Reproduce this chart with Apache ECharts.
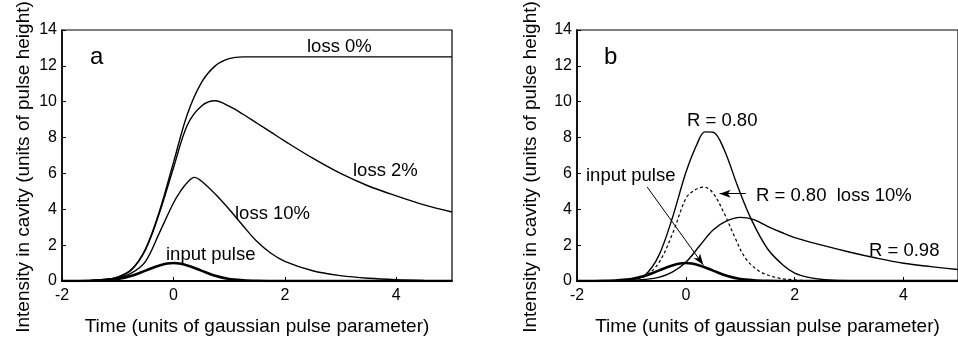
<!DOCTYPE html>
<html><head><meta charset="utf-8">
<script src="https://cdn.jsdelivr.net/npm/echarts@6/dist/echarts.min.js"></script>
<style>html,body{margin:0;padding:0;background:#fff}#c{width:958px;height:341px}</style>
</head><body><div id="c"></div>
<script>
// ---- data ----
const xTicks = [-2, 0, 2, 4];
const yTicks = [0, 2, 4, 6, 8, 10, 12, 14];

const tInput = [-2,-1.75,-1.5,-1.25,-1,-0.75,-0.5,-0.25,0,0.25,0.5,0.75,1,1.25,1.5,1.75,2,3,4,5];
const vInput = [0,0.002,0.01,0.04,0.11,0.29,0.58,0.87,1.0,0.87,0.58,0.29,0.11,0.04,0.01,0.002,0,0,0,0];

const tLoss0 = [-2,-1.75,-1.5,-1.25,-1,-0.75,-0.5,-0.25,0,0.25,0.5,0.75,1,1.25,1.5,2,3,4,5];
const vLoss0 = [0,0.005,0.02,0.08,0.22,0.65,1.8,3.9,6.6,9.3,11.05,12.0,12.4,12.5,12.5,12.5,12.5,12.5,12.5];

const tLoss2 = [-2,-1.75,-1.5,-1.25,-1,-0.75,-0.5,-0.25,0,0.25,0.5,0.75,1,1.25,1.5,1.75,2,2.5,3,3.5,4,4.5,5];
const vLoss2 = [0,0.005,0.02,0.08,0.22,0.63,1.75,3.8,6.3,8.7,9.75,10.05,9.75,9.3,8.8,8.3,7.8,6.85,6.0,5.3,4.75,4.25,3.85];

const tLoss10 = [-2,-1.75,-1.5,-1.25,-1,-0.75,-0.5,-0.25,0,0.125,0.25,0.375,0.5,0.75,1,1.25,1.5,1.75,2,2.5,3,3.5,4,4.5,5];
const vLoss10 = [0,0.005,0.02,0.06,0.18,0.45,1.1,2.7,4.35,5.0,5.5,5.78,5.58,4.85,4.0,3.08,2.2,1.55,1.1,0.57,0.3,0.15,0.07,0.03,0.01];

const tR80 = [-2,-1.5,-1.25,-1,-0.75,-0.5,-0.25,0,0.2,0.35,0.5,0.7,0.95,1.2,1.5,1.8,2,2.25,2.55,3,5];
const vR80 = [0,0.005,0.02,0.08,0.33,1.4,3.5,6.05,7.6,8.32,8.3,7.35,5.3,3.45,1.8,0.85,0.44,0.2,0.07,0.01,0];

const tR80L10 = [-2,-1.5,-1.25,-1,-0.75,-0.5,-0.25,0,0.15,0.33,0.5,0.7,0.9,1.1,1.35,1.65,1.95,2.5,5];
const vR80L10 = [0,0.005,0.02,0.07,0.27,1.0,2.6,4.6,5.05,5.24,4.9,3.8,2.44,1.25,0.55,0.2,0.07,0.01,0];

const tR98 = [-2,-1.5,-1,-0.75,-0.5,-0.25,0,0.25,0.5,0.75,1,1.25,1.5,1.75,2,2.5,3,3.5,4,4.5,5];
const vR98 = [0,0.005,0.04,0.09,0.2,0.5,1.05,1.95,2.85,3.35,3.55,3.42,3.05,2.72,2.42,2.0,1.62,1.28,0.99,0.8,0.64];

// annotation arrows (data coordinates)
const arrowInput = [[-0.71, 5.24], [0.32, 0.9]];
const arrowLoss = [[1.1, 4.87], [0.62, 4.87]];

const xName = 'Time (units of gaussian pulse parameter)';
const yName = 'Intensity in cavity (units of pulse height)';

// ---- chart ----
const zip = (t, v) => t.map((x, i) => [x, v[i]]);
const FONT = 'Liberation Sans, Arial, Helvetica, sans-serif';
const chart = echarts.init(document.getElementById('c'), null, {renderer: 'canvas'});

function xAxisDef(gi) {
  return {
    type: 'value', gridIndex: gi, min: xTicks[0], max: 5, interval: 2,
    name: xName, nameLocation: 'middle', nameGap: 36,
    nameTextStyle: {color: '#000', fontSize: 19, fontFamily: FONT},
    axisLine: {show: true, onZero: false, lineStyle: {color: '#000', width: 1.8}},
    axisTick: {show: true, inside: true, length: 4, lineStyle: {color: '#000', width: 1}},
    axisLabel: {color: '#000', fontSize: 16, fontFamily: FONT, margin: 7, showMaxLabel: false},
    splitLine: {show: false}
  };
}
function yAxisDef(gi, gap) {
  return {
    type: 'value', gridIndex: gi, min: yTicks[0], max: yTicks[yTicks.length - 1], interval: 2,
    name: yName, nameLocation: 'middle', nameGap: gap, nameRotate: 90,
    nameTextStyle: {color: '#000', fontSize: 19, fontFamily: FONT, padding: [0, 23, 0, 0]},
    axisLine: {show: true, onZero: false, lineStyle: {color: '#000', width: 1.6}},
    axisTick: {show: true, inside: true, length: 4, lineStyle: {color: '#000', width: 1}},
    axisLabel: {color: '#000', fontSize: 16, fontFamily: FONT, margin: 5},
    splitLine: {show: false}
  };
}
function line(name, gi, data, width, dashed) {
  return {
    name, type: 'line', xAxisIndex: gi, yAxisIndex: gi, data,
    showSymbol: false, smooth: 0.35, animation: false, silent: true,
    lineStyle: {color: '#000', width, type: dashed ? [3, 2.5] : 'solid'}
  };
}
function txt(x, y, s, size) {
  return {type: 'text', x: x, y: y, silent: true,
    style: {text: s, fill: '#000', font: (size || 18.5) + 'px ' + FONT, align: 'left', verticalAlign: 'middle'}};
}
const arrowStyle = {
  silent: true, symbol: ['none', 'arrow'], symbolSize: [6, 11],
  lineStyle: {color: '#000', width: 1, type: 'solid'}, label: {show: false}, animation: false
};

const r80 = line('R = 0.80', 1, zip(tR80, vR80), 1.4);
r80.markLine = Object.assign({data: [
  [{coord: arrowInput[0]}, {coord: arrowInput[1]}],
  [{coord: arrowLoss[0]}, {coord: arrowLoss[1]}]
]}, arrowStyle);

chart.setOption({
  animation: false,
  grid: [
    {left: 62, right: 506, top: 30, bottom: 58, show: true, borderColor: '#000', borderWidth: 1.2, backgroundColor: 'transparent'},
    {left: 577, right: -8, top: 30, bottom: 58, show: true, borderColor: '#000', borderWidth: 1.2, backgroundColor: 'transparent'}
  ],
  xAxis: [xAxisDef(0), xAxisDef(1)],
  yAxis: [yAxisDef(0, 29), yAxisDef(1, 37)],
  series: [
    line('input pulse', 0, zip(tInput, vInput), 2.6),
    line('loss 0%', 0, zip(tLoss0, vLoss0), 1.4),
    line('loss 2%', 0, zip(tLoss2, vLoss2), 1.4),
    line('loss 10%', 0, zip(tLoss10, vLoss10), 1.4),
    line('input pulse b', 1, zip(tInput, vInput), 2.6),
    r80,
    line('R = 0.80 loss 10%', 1, zip(tR80L10, vR80L10), 1.2, true),
    line('R = 0.98', 1, zip(tR98, vR98), 1.4)
  ],
  graphic: [
    txt(90, 57, 'a', 24),
    txt(604, 57, 'b', 24),
    txt(307, 47, 'loss 0%'),
    txt(353, 170.5, 'loss 2%'),
    txt(235, 214, 'loss 10%'),
    txt(166, 255, 'input pulse'),
    txt(687, 120.5, 'R = 0.80'),
    txt(586, 175.5, 'input pulse'),
    txt(756, 195.5, 'R = 0.80  loss 10%'),
    txt(869, 250.5, 'R = 0.98')
  ]
});
</script></body></html>
